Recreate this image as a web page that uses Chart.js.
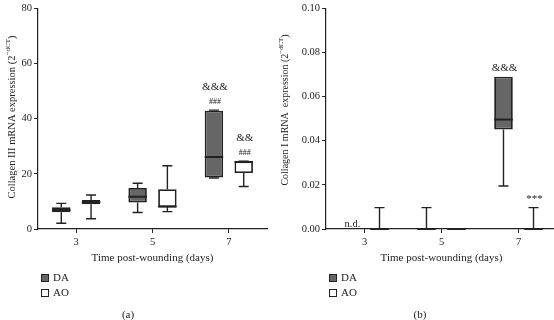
<!DOCTYPE html>
<html>
<head>
<meta charset="utf-8">
<script src="https://cdn.jsdelivr.net/npm/chart.js@4"></script>
<style>
  html, body { margin: 0; padding: 0; background: #fff; }
  #wrap { position: relative; width: 554px; height: 320px; overflow: hidden; background: #fff; }
  #chartA { position: absolute; left: 0; top: 0; }
  #chartB { position: absolute; left: 277px; top: 0; }
  .panel-label {
    position: absolute; top: 308px; line-height: 12px;
    font: 11px "Liberation Serif", serif; color: #222;
    transform: translateX(-50%);
  }
</style>
</head>
<body>
<div id="wrap">
  <canvas id="chartA" width="277" height="320"></canvas>
  <canvas id="chartB" width="290" height="320"></canvas>
  <div class="panel-label" style="left:128px">(a)</div>
  <div class="panel-label" style="left:420px">(b)</div>
</div>
<script>
// categories
const days = ['3', '5', '7'];
const groupNames = ['DA', 'AO'];

// (a) Collagen III - box plot stats per day
const col3DaMin = [2.1, 6.0, 18.5];
const col3DaQ1 = [6.1, 9.6, 18.7];
const col3DaMed = [6.9, 11.7, 26.1];
const col3DaQ3 = [7.9, 14.9, 42.9];
const col3DaMax = [9.3, 16.6, 43.1];

const col3AoMin = [3.7, 6.3, 15.4];
const col3AoQ1 = [9.0, 8.0, 20.3];
const col3AoMed = [9.8, 8.1, 24.3];
const col3AoQ3 = [10.5, 14.4, 24.5];
const col3AoMax = [12.3, 22.9, 24.6];

const col3Ticks = [0, 20, 40, 60, 80];

// (b) Collagen I - box plot stats per day (null = not detected)
const col1DaMin = [null, 0, 0.0195];
const col1DaQ1 = [null, 0, 0.0451];
const col1DaMed = [null, 0, 0.0496];
const col1DaQ3 = [null, 0, 0.069];
const col1DaMax = [null, 0.0097, 0.069];

const col1AoMin = [0, 0, 0];
const col1AoQ1 = [0, 0, 0];
const col1AoMed = [0, 0, 0];
const col1AoQ3 = [0, 0, 0];
const col1AoMax = [0.0097, 0, 0.0097];

const col1Ticks = [0, 0.02, 0.04, 0.06, 0.08, 0.10];

// significance marks: [dataset, day index, lines bottom-up]
const col3Marks = [[0, 2, ['###', '&&&']], [1, 2, ['###', '&&']]];
const col1Marks = [[0, 0, ['n.d.']], [0, 2, ['&&&']], [1, 2, ['***']]];

const SERIF = "'Liberation Serif', 'DejaVu Serif', serif";
const INK = '#222';
const DA_FILL = '#666666';
const AO_FILL = '#ffffff';

/* ---------- plugins ---------- */

// whiskers + median line on top of the floating bars
const boxPlotPlugin = {
    id: 'boxPlot',
    afterDatasetsDraw(chart) {
        const ctx = chart.ctx;
        const y = chart.scales.y;
        const cap = 5;
        chart.data.datasets.forEach((ds, d) => {
            const meta = chart.getDatasetMeta(d);
            meta.data.forEach((bar, i) => {
                if (ds.data[i] == null) return;
                const [q1, q3] = ds.data[i];
                const half = bar.width / 2;
                ctx.save();
                ctx.strokeStyle = INK;
                ctx.lineWidth = 1.4;
                ctx.beginPath();
                if (ds.maxVals[i] > q3) {
                    const top = y.getPixelForValue(ds.maxVals[i]);
                    ctx.moveTo(bar.x, y.getPixelForValue(q3));
                    ctx.lineTo(bar.x, top);
                    ctx.moveTo(bar.x - cap, top);
                    ctx.lineTo(bar.x + cap, top);
                }
                if (ds.minVals[i] < q1) {
                    const bot = y.getPixelForValue(ds.minVals[i]);
                    ctx.moveTo(bar.x, y.getPixelForValue(q1));
                    ctx.lineTo(bar.x, bot);
                    ctx.moveTo(bar.x - cap, bot);
                    ctx.lineTo(bar.x + cap, bot);
                }
                ctx.stroke();
                // median
                const m = y.getPixelForValue(ds.medians[i]);
                ctx.lineWidth = 2;
                ctx.beginPath();
                ctx.moveTo(bar.x - half, m);
                ctx.lineTo(bar.x + half, m);
                ctx.stroke();
                ctx.restore();
            });
        });
    }
};

// significance text above the boxes
const marksPlugin = {
    id: 'marks',
    afterDatasetsDraw(chart, args, opts) {
        const ctx = chart.ctx;
        const y = chart.scales.y;
        (opts.items || []).forEach(([d, i, lines]) => {
            const ds = chart.data.datasets[d];
            const bar = chart.getDatasetMeta(d).data[i];
            ctx.save();
            ctx.fillStyle = '#222';
            ctx.textAlign = 'center';
            ctx.textBaseline = 'alphabetic';
            if (ds.data[i] == null) {
                ctx.font = '10.5px ' + SERIF;
                ctx.fillText(lines[0], bar.x + 3, y.getPixelForValue(0) - 2);
            } else {
                const top = y.getPixelForValue(ds.maxVals[i]);
                lines.forEach((t, k) => {
                    ctx.font = (t[0] === '#' ? '8px ' : '11px ') + SERIF;
                    ctx.fillText(t, bar.x + 1, top - 6 - k * 14.5);
                });
            }
            ctx.restore();
        });
    }
};

// rotated y title with superscript
const yTitlePlugin = {
    id: 'yTitle',
    afterDraw(chart, args, opts) {
        const ctx = chart.ctx;
        const main = opts.text, sup = opts.sup, close = ')';
        const big = opts.size + 'px ' + SERIF;
        const small = (opts.size * 0.68).toFixed(1) + 'px ' + SERIF;
        ctx.save();
        ctx.font = big;
        const w1 = ctx.measureText(main).width;
        const w3 = ctx.measureText(close).width;
        ctx.font = small;
        const w2 = ctx.measureText(sup).width;
        const total = w1 + w2 + w3;
        ctx.translate(opts.x, opts.cy);
        ctx.rotate(-Math.PI / 2);
        ctx.fillStyle = '#222';
        ctx.textBaseline = 'middle';
        ctx.textAlign = 'left';
        let x = -total / 2;
        ctx.font = big;
        ctx.fillText(main, x, 0);
        x += w1;
        ctx.font = small;
        ctx.fillText(sup, x, -opts.size * 0.38);
        x += w2;
        ctx.font = big;
        ctx.fillText(close, x, 0);
        ctx.restore();
    }
};

// vertical legend under the x title
const boxLegendPlugin = {
    id: 'boxLegend',
    afterDraw(chart) {
        const ctx = chart.ctx;
        const x0 = chart.chartArea.left + 3;
        const y0 = chart.chartArea.bottom + 49;
        chart.data.datasets.forEach((ds, d) => {
            const yy = y0 + d * 15;
            ctx.save();
            ctx.fillStyle = ds.backgroundColor;
            ctx.strokeStyle = INK;
            ctx.lineWidth = 1;
            ctx.fillRect(x0 + 0.5, yy - 3.5, 7, 7);
            ctx.strokeRect(x0 + 0.5, yy - 3.5, 7, 7);
            ctx.fillStyle = '#222';
            ctx.font = '11px ' + SERIF;
            ctx.textBaseline = 'middle';
            ctx.fillText(ds.label, x0 + 12, yy + 0.5);
            ctx.restore();
        });
    }
};

/* ---------- builders ---------- */

function boxDataset(label, fill, q1, q3, med, min, max) {
    return {
        label: label,
        data: q1.map((v, i) => (v == null ? null : [v, q3[i]])),
        medians: med,
        minVals: min,
        maxVals: max,
        backgroundColor: fill,
        borderColor: INK,
        borderWidth: 1.8,
        borderSkipped: false,
        categoryPercentage: 0.78,
        barPercentage: 0.62
    };
}

function makeChart(canvasId, datasets, yOpts, layoutPad, yWidth, titleOpts, marks) {
    return new Chart(document.getElementById(canvasId), {
        type: 'bar',
        data: { labels: days, datasets: datasets },
        plugins: [boxPlotPlugin, marksPlugin, yTitlePlugin, boxLegendPlugin],
        options: {
            responsive: false,
            animation: false,
            layout: { padding: layoutPad },
            plugins: {
                legend: { display: false },
                tooltip: { enabled: false },
                marks: { items: marks },
                yTitle: titleOpts
            },
            scales: {
                x: {
                    offset: true,
                    grid: { display: true, drawOnChartArea: false, offset: false, tickLength: 4, color: INK, lineWidth: 1 },
                    border: { display: true, color: INK, width: 1.2 },
                    ticks: { color: '#222', font: { family: SERIF, size: 10.5 }, padding: 3 },
                    title: {
                        display: true,
                        text: 'Time post-wounding (days)',
                        color: '#222',
                        font: { family: SERIF, size: 11 },
                        padding: { top: 0, bottom: 4 }
                    },
                    afterFit: (s) => { s.height = 40; }
                },
                y: {
                    min: yOpts.min,
                    max: yOpts.max,
                    afterBuildTicks: (s) => { s.ticks = yOpts.ticks.map(v => ({ value: v })); },
                    grid: { display: true, drawOnChartArea: false, tickLength: 4, color: INK, lineWidth: 1 },
                    border: { display: true, color: INK, width: 1.2 },
                    ticks: {
                        color: '#222',
                        font: { family: SERIF, size: 10.5 },
                        padding: 2,
                        callback: yOpts.fmt
                    },
                    afterFit: (s) => { s.width = yWidth; }
                }
            }
        }
    });
}

makeChart('chartA',
    [
        boxDataset(groupNames[0], DA_FILL, col3DaQ1, col3DaQ3, col3DaMed, col3DaMin, col3DaMax),
        boxDataset(groupNames[1], AO_FILL, col3AoQ1, col3AoQ3, col3AoMed, col3AoMin, col3AoMax)
    ],
    { min: 0, max: 80, ticks: col3Ticks, fmt: (v) => String(v) },
    { left: 0, right: 10, top: 5, bottom: 51 },
    38,
    { text: 'Collagen III mRNA expression (2', sup: '\u2212dCT', size: 10.5, x: 12, cy: 117 },
    col3Marks
);

makeChart('chartB',
    [
        boxDataset(groupNames[0], DA_FILL, col1DaQ1, col1DaQ3, col1DaMed, col1DaMin, col1DaMax),
        boxDataset(groupNames[1], AO_FILL, col1AoQ1, col1AoQ3, col1AoMed, col1AoMin, col1AoMax)
    ],
    { min: 0, max: 0.1, ticks: col1Ticks, fmt: (v) => Number(v).toFixed(2) },
    { left: 0, right: 10, top: 5, bottom: 51 },
    49,
    { text: 'Collagen I mRNA  expression (2', sup: '\u2212dCT', size: 10, x: 8, cy: 110 },
    col1Marks
);
</script>
</body>
</html>
